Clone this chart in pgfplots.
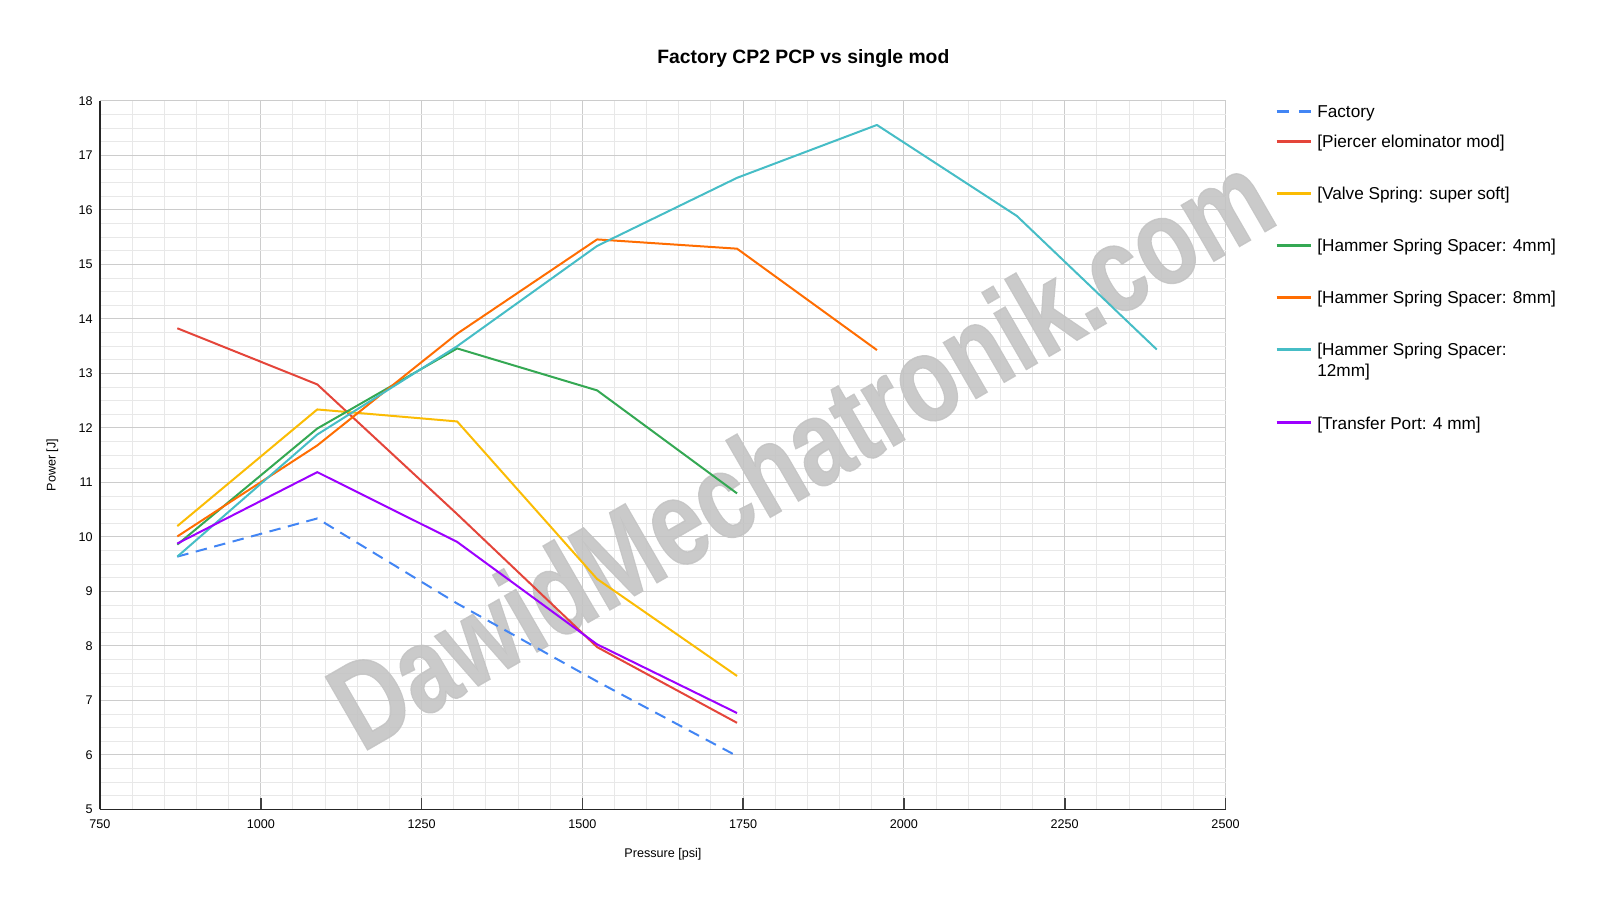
\documentclass[border=0pt]{standalone}
\usepackage{fontspec}
\setmainfont{Liberation Sans}
\newfontfamily\wmfont[FakeBold=1.2]{Liberation Sans Bold}
\usepackage{pgfplots}
\pgfplotsset{compat=1.18}
\definecolor{cFactory}{HTML}{4285F4}
\definecolor{cPiercer}{HTML}{E4453A}
\definecolor{cValve}{HTML}{FBBC04}
\definecolor{cFour}{HTML}{34A853}
\definecolor{cEight}{HTML}{FF6D01}
\definecolor{cTwelve}{HTML}{46BDC6}
\definecolor{cTransfer}{HTML}{9D00FF}
\pgfplotsset{
  std legend/.style={legend image code/.code={\draw[##1, line width=1.5pt] (0pt,3.1pt) -- (17.15pt,3.1pt);}},
  dash legend/.style={legend image code/.code={\draw[##1, line width=1.5pt, dash pattern=on 6pt off 5.15pt] (0pt,3.1pt) -- (17.15pt,3.1pt);}},
}
\begin{document}
\begin{tikzpicture}
\path[use as bounding box] (-50pt,-46.75pt) rectangle (750pt,404.75pt);
\begin{axis}[
  at={(0pt,0pt)}, anchor=south west,
  scale only axis, width=562.75pt, height=354.25pt,
  xmin=750, xmax=2500, ymin=5, ymax=18,
  xtick={750,1000,...,2500}, ytick={5,6,...,18},
  minor x tick num=4, minor y tick num=3,
  grid=both,
  major grid style={draw=black!20, line width=0.5pt},
  minor grid style={draw=black!9, line width=0.5pt},
  axis lines=left, axis line style={-, draw=black!85, line width=0.8pt},
  clip=false,
  tick align=inside,
  major tick length=5.5pt, minor tick length=0pt,
  xtick style={draw=black!75, line width=0.8pt},
  ytick style={draw=none},
  scaled x ticks=false,
  /pgf/number format/assume math mode=true,
  /pgf/number format/set thousands separator={},
  tick label style={font=\fontsize{6.3}{7}\selectfont, inner sep=0pt},
  xticklabel style={yshift=-4.75pt},
  yticklabel style={xshift=-3.5pt},
  title={Factory CP2 PCP vs single mod},
  title style={at={(axis description cs:0.6249,1.0365)}, anchor=base, inner sep=0pt, font=\fontsize{9.66}{11}\selectfont\bfseries},
  xlabel={Pressure [psi]},
  xlabel style={at={(axis description cs:0.5002,-0.0631)}, anchor=center, inner sep=0pt, font=\fontsize{6.3}{7}\selectfont},
  ylabel={Power [J]},
  ylabel style={at={(axis description cs:-0.0423,0.4862)}, anchor=center, inner sep=0pt, font=\fontsize{6.3}{7}\selectfont},
  every axis plot/.append style={line width=1pt, line join=round},
  legend cell align=left,
  legend style={at={(axis description cs:1.04398,1.00438)}, anchor=north west, draw=none, fill=none,
    inner sep=0pt, outer sep=0pt, row sep=1pt, column sep=2.5pt,
    cells={anchor=base west},
    nodes={inner sep=0pt, outer sep=0pt, font=\fontsize{8.6}{10.8}\selectfont}},
  std legend,
]
\node[rotate=30, text=black!23, text opacity=0.9, inner sep=0pt, font=\wmfont\fontsize{59.4}{60}\selectfont] at (axis cs:1838,11.6) {\scalebox{0.80}[1.03]{DawidMechatronik.com}};

\addplot[color=cFactory, dash pattern=on 5.75pt off 3.8pt, dash legend]
  coordinates {(870.2,9.64) (1087.8,10.34) (1305.3,8.78) (1522.9,7.35) (1740.5,5.98)};
\addlegendentry{Factory\rule[-4pt]{0pt}{14pt}}

\addplot[color=cPiercer] coordinates {(870.2,13.83) (1087.8,12.80) (1305.3,10.42) (1522.9,7.98) (1740.5,6.59)};
\addlegendentry{[Piercer elominator mod]\rule{0pt}{12.25pt}}

\addplot[color=cValve] coordinates {(870.2,10.20) (1087.8,12.34) (1305.3,12.12) (1522.9,9.23) (1740.5,7.45)};
\addlegendentry{[Valve Spring: super soft]\rule{0pt}{23.5pt}}

\addplot[color=cFour] coordinates {(870.2,9.86) (1087.8,11.99) (1305.3,13.46) (1522.9,12.69) (1740.5,10.80)};
\addlegendentry{[Hammer Spring Spacer: 4mm]\rule{0pt}{23.5pt}}

\addplot[color=cEight] coordinates {(870.2,10.01) (1087.8,11.68) (1305.3,13.73) (1522.9,15.46) (1740.5,15.29) (1958.0,13.43)};
\addlegendentry{[Hammer Spring Spacer: 8mm]\rule{0pt}{23.5pt}}

\addplot[color=cTwelve] coordinates {(870.2,9.64) (1087.8,11.88) (1305.3,13.50) (1522.9,15.34) (1740.5,16.59) (1958.0,17.56) (2175.6,15.89) (2393.1,13.44)};
\addlegendentry{\parbox[t]{120pt}{\rule{0pt}{23.5pt}[Hammer Spring Spacer:\\12mm]}}

\addplot[color=cTransfer] coordinates {(870.2,9.88) (1087.8,11.19) (1305.3,9.91) (1522.9,8.03) (1740.5,6.77)};
\addlegendentry{[Transfer Port: 4 mm]\rule{0pt}{34.4pt}}
\end{axis}
\end{tikzpicture}
\end{document}
